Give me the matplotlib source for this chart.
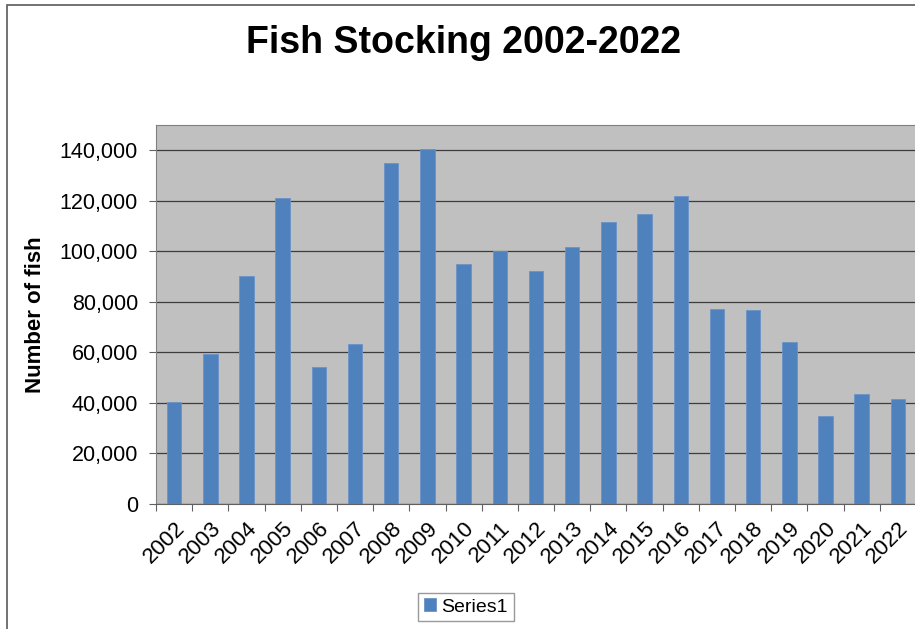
import matplotlib.pyplot as plt
from matplotlib.patches import Rectangle
from matplotlib.ticker import FuncFormatter, FixedLocator

plt.rcParams['font.family'] = ['Liberation Sans', 'DejaVu Sans']

years = [str(y) for y in range(2002, 2023)]
fish = [40200, 59200, 90200, 121000, 54200, 63300, 134900, 140400,
        94800, 100300, 92200, 101700, 111600, 114800, 121900,
        77100, 76900, 64000, 34900, 43500, 41400]
series_name = "Series1"

W, H = 915, 629
fig = plt.figure(figsize=(W / 100, H / 100), dpi=100)

# outer chart border (cut off on the right like the source)
fig.patches.append(Rectangle((7 / W, -0.05), 2.0, 1 - 5 / H + 0.05,
                             transform=fig.transFigure, fill=False,
                             edgecolor='#5a5a5a', linewidth=1.2))

ax = fig.add_axes([156 / W, 1 - 504 / H, 760 / W, 379 / H])
ax.set_facecolor('#c0c0c0')

x = list(range(len(years)))
ax.bar(x, fish, width=0.4, color='#4f81bd', edgecolor='#6b93c8',
       linewidth=0.6, label=series_name, zorder=3)

ax.set_xlim(-0.5, len(years) - 0.5)
ax.set_ylim(0, 150000)
ax.set_yticks(range(0, 150000, 20000))
ax.yaxis.set_major_formatter(FuncFormatter(lambda v, p: f"{int(v):,}"))
ax.grid(axis='y', color='#3c3c3c', linewidth=0.9, zorder=1)

ax.xaxis.set_major_locator(FixedLocator([i - 0.5 for i in range(len(years) + 1)]))
ax.xaxis.set_minor_locator(FixedLocator(x))
ax.set_xticklabels([], minor=False)
ax.set_xticklabels(years, minor=True, rotation=45, ha='right', va='top',
                   rotation_mode='anchor', fontsize=16)
ax.tick_params(axis='x', which='minor', length=0, pad=10)
ax.tick_params(axis='x', which='major', length=5, color='#606060')
ax.tick_params(axis='y', length=5, color='#606060', labelsize=15.5, pad=8)

for side in ['top', 'right', 'left']:
    ax.spines[side].set_color('#808080')
ax.spines['bottom'].set_color('#606060')

ax.set_ylabel("Number of fish", fontsize=16, fontweight='bold', labelpad=10)

fig.text(464 / W, 1 - 43 / H, "Fish Stocking 2002-2022", fontsize=27,
         fontweight='bold', ha='center', va='center')

leg = fig.legend(loc='center', bbox_to_anchor=(466 / W, 1 - 607 / H),
                 fontsize=14, frameon=True, fancybox=False, handlelength=0.6,
                 handleheight=0.6, handletextpad=0.3, borderpad=0.3)
leg.get_frame().set_edgecolor('#808080')
leg.get_frame().set_linewidth(1.0)

fig.savefig('out.png', dpi=100, facecolor='white')
